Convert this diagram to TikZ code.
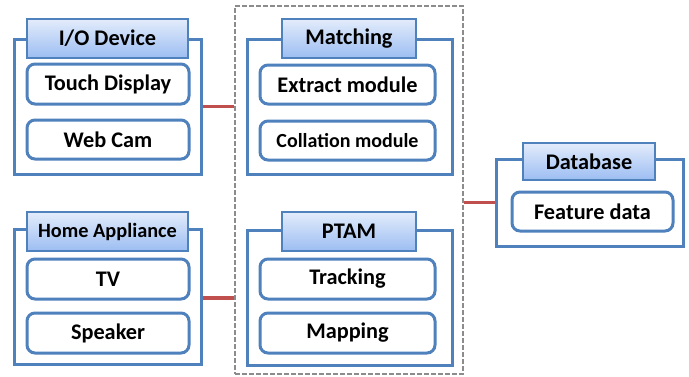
\documentclass[tikz,border=0pt]{standalone}
\usepackage{fontspec}
\setmainfont{Carlito}
\definecolor{bblue}{HTML}{4F81BD}
\definecolor{htop}{HTML}{E3ECFB}
\definecolor{hbot}{HTML}{9CBDF2}
\definecolor{rline}{HTML}{C0504D}
\definecolor{dgray}{HTML}{8C8C8C}
\tikzset{
  outerbox/.style={draw=bblue, line width=3pt, fill=white, inner sep=0pt},
  headbox/.style={draw=bblue, line width=1.6pt, top color=htop, bottom color=hbot, inner sep=0pt, font=\bfseries\fontsize{22.3}{26}\selectfont},
  itembox/.style={draw=bblue, line width=3pt, fill=white, rounded corners=8pt, inner sep=0pt, font=\bfseries\fontsize{22.3}{26}\selectfont},
  dashbox/.style={draw=dgray, line width=2.4pt, dash pattern=on 5pt off 2pt, inner sep=0pt},
  conn/.style={draw=rline, line width=3.2pt}
}
\begin{document}
\begin{tikzpicture}[x=1pt,y=1pt]
\useasboundingbox (0,0) rectangle (689,-376);
% dashed container
\node[dashbox, minimum width=228pt, minimum height=368pt] (dash) at (349,-190) {};
% I/O device
\node[outerbox, minimum width=187pt, minimum height=135pt] (io) at (107.5,-106.5) {};
\node[headbox, minimum width=161pt, minimum height=39pt] (ioh) at (107.5,-38.5) {I/O Device};
\node[itembox, minimum width=162pt, minimum height=40pt] (touch) at (108,-84) {Touch Display};
\node[itembox, minimum width=162pt, minimum height=39pt] (cam) at (108,-139.5) {Web Cam};
% Home appliance
\node[outerbox, minimum width=187pt, minimum height=135pt] (home) at (107.5,-296.5) {};
\node[headbox, minimum width=161pt, minimum height=39pt, font=\bfseries\fontsize{20.3}{24}\selectfont] (homeh) at (107.5,-231.5) {Home Appliance};
\node[itembox, minimum width=162pt, minimum height=40pt] (tv) at (108,-279) {TV};
\node[itembox, minimum width=162pt, minimum height=40pt] (spk) at (108,-333) {Speaker};
% Matching
\node[outerbox, minimum width=205pt, minimum height=135pt] (match) at (349.5,-106.5) {};
\node[headbox, minimum width=134pt, minimum height=39pt] (matchh) at (349,-38.5) {Matching};
\node[itembox, minimum width=175pt, minimum height=39pt] (extract) at (347.5,-84.5) {Extract module};
\node[itembox, minimum width=175pt, minimum height=39pt, font=\bfseries\fontsize{20}{24}\selectfont] (coll) at (347.5,-140.5) {Collation module};
% PTAM
\node[outerbox, minimum width=205pt, minimum height=135pt] (ptam) at (349.5,-297.5) {};
\node[headbox, minimum width=134pt, minimum height=39pt] (ptamh) at (349,-231.5) {PTAM};
\node[itembox, minimum width=175pt, minimum height=40pt] (track) at (347.5,-279) {Tracking};
\node[itembox, minimum width=175pt, minimum height=40pt] (map) at (347.5,-333) {Mapping};
% Database
\node[outerbox, minimum width=187pt, minimum height=87pt] (db) at (589.5,-202.5) {};
\node[headbox, minimum width=132pt, minimum height=37pt] (dbh) at (589,-161.5) {Database};
\node[itembox, minimum width=161pt, minimum height=39pt] (feat) at (592.5,-211.5) {Feature data};
% connectors
\draw[conn] (io.east) -- (io.east -| dash.west);
\draw[conn] ([yshift=-1.5pt]home.east) -- ([yshift=-1.5pt]home.east -| dash.west);
\draw[conn] (db.west -| dash.east) -- (db.west);
\end{tikzpicture}
\end{document}
